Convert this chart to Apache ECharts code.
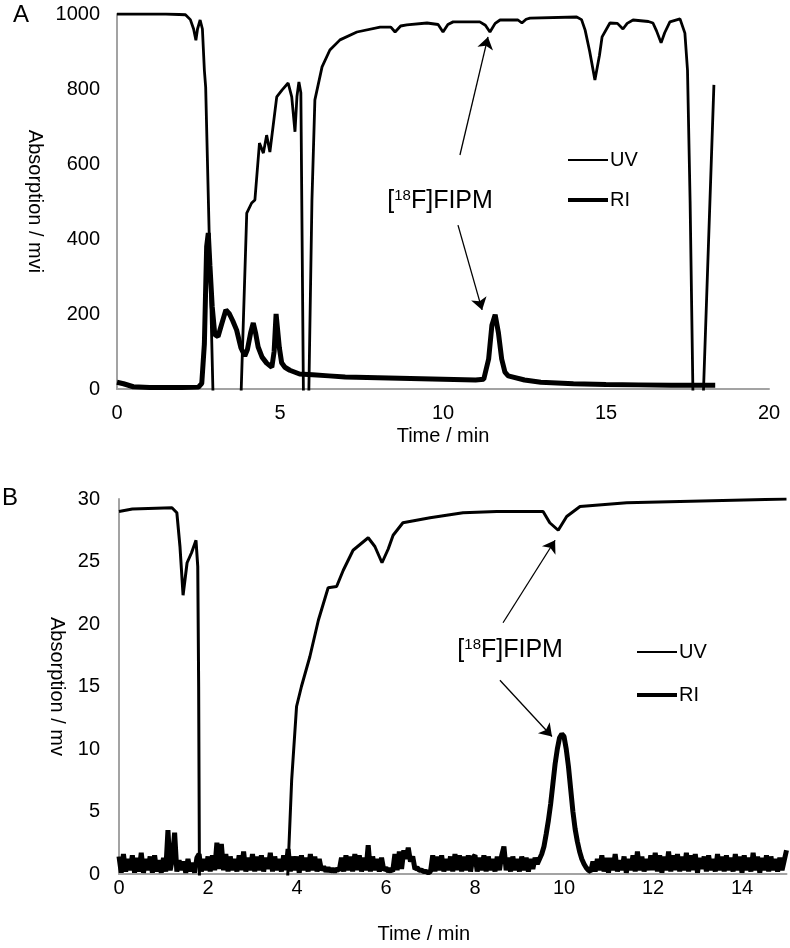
<!DOCTYPE html>
<html>
<head>
<meta charset="utf-8">
<title>Radio-HPLC chromatograms</title>
<script src="https://cdn.jsdelivr.net/npm/echarts@6/dist/echarts.min.js"></script>
<style>
  html, body { margin: 0; padding: 0; background: #fff; }
  #chart { width: 790px; height: 948px; }
</style>
</head>
<body>
<div id="chart"></div>
<script>
// ---- panel A (semi-preparative run) : [time / min, absorption / mvi]
// UV goes off-scale (below 0) where the trace vanishes into the axis
const uvA = [
  [0, 1000], [1.5, 1000], [2.1, 998], [2.25, 985], [2.35, 960], [2.42, 930], [2.47, 960],
  [2.55, 984], [2.62, 960], [2.68, 850], [2.72, 805], [2.77, 800], [2.95, -30], [3.8, -30],
  [3.98, 469], [4.13, 496], [4.23, 504], [4.37, 656], [4.49, 629], [4.59, 677], [4.69, 632],
  [4.8, 709], [4.9, 779], [5.06, 797], [5.25, 816], [5.36, 779], [5.46, 686], [5.52, 780],
  [5.58, 819], [5.64, 790], [5.72, -30], [5.88, -30], [5.98, 504], [6.07, 771], [6.29, 859],
  [6.53, 904], [6.84, 931], [7.36, 952], [8.07, 965], [8.4, 965], [8.53, 952], [8.7, 968],
  [8.89, 971], [9.51, 976], [9.85, 972], [10.0, 952], [10.15, 972], [10.31, 979], [11.13, 979],
  [11.3, 970], [11.44, 952], [11.6, 975], [11.75, 984], [12.3, 984], [12.42, 976], [12.55, 986],
  [12.67, 989], [14.1, 992], [14.25, 985], [14.36, 957], [14.5, 900], [14.66, 824], [14.8, 890],
  [14.88, 939], [15.12, 976], [15.35, 975], [15.52, 960], [15.65, 975], [15.83, 984], [16.3, 980],
  [16.44, 976], [16.55, 955], [16.69, 923], [16.8, 950], [16.96, 979], [17.27, 987], [17.42, 949],
  [17.5, 850], [17.58, 500], [17.67, -30], [17.98, -30], [18.31, 811]
]
const riA = [
  [0, 18], [0.2, 14], [0.5, 6], [1.0, 4], [1.5, 4], [2.0, 4], [2.5, 5], [2.6, 15], [2.68, 120],
  [2.75, 380], [2.8, 416], [2.85, 330], [2.92, 220], [3.0, 145], [3.1, 140], [3.2, 170],
  [3.34, 211], [3.45, 200], [3.55, 182], [3.67, 157], [3.8, 110], [3.92, 88], [4.0, 105],
  [4.1, 150], [4.18, 176], [4.25, 150], [4.33, 112], [4.45, 85], [4.59, 69], [4.75, 58],
  [4.82, 100], [4.88, 200], [4.92, 195], [4.98, 110], [5.05, 70], [5.15, 58], [5.3, 50],
  [5.6, 40], [6.0, 38], [6.5, 35], [7.0, 32], [8.0, 30], [9.0, 28], [10.0, 26], [11.0, 24],
  [11.25, 26], [11.4, 80], [11.5, 170], [11.6, 198], [11.7, 150], [11.8, 80], [11.9, 45],
  [12.0, 35], [12.5, 24], [13.0, 18], [14.0, 14], [15.0, 12], [16.0, 11], [17.0, 10],
  [18.0, 10], [18.35, 10]
]
const xTicksA = [0, 5, 10, 15, 20]
const yTicksA = [0, 200, 400, 600, 800, 1000]

// ---- panel B (analytical run) : [time / min, absorption / mv]
const uvB = [
  [0, 29.0], [0.3, 29.2], [1.19, 29.3], [1.3, 28.9], [1.37, 26.2], [1.44, 22.3], [1.53, 24.9],
  [1.63, 25.7], [1.73, 26.7], [1.77, 24.6], [1.79, 15], [1.81, -2], [3.77, -2], [3.88, 7.5],
  [3.99, 13.4], [4.1, 15.0], [4.29, 17.4], [4.48, 20.3], [4.7, 22.9], [4.89, 23.0], [5.04, 24.3],
  [5.26, 25.9], [5.6, 26.9], [5.75, 26.2], [5.91, 24.9], [6.05, 26.0], [6.16, 27.1], [6.38, 28.1],
  [6.99, 28.5], [7.73, 28.9], [8.49, 29.0], [9.53, 29.0], [9.68, 28.1], [9.87, 27.5], [10.06, 28.6],
  [10.36, 29.4], [11.41, 29.7], [15, 30.0]
]
// radio detector, sampled every 0.05 min from t = 0 (one row = 1 min)
const riBStep = 0.05
const riB = [
  1.4, 0.1, 1.6, 0.2, 1.2, 0.3, 1.5, 0.1, 1.3, 0.2, 1.7, 0.1, 1.2, 0.3, 1.4, 0.1, 1.5, 0.2, 1.1, 0.1,
  1.3, 0.2, 3.5, 0.3, 1.2, 3.3, 0.2, 1.1, 0.3, 1.0, 0.1, 1.2, 0.2, 0.9, 0.1, 1.3, 1.6, 0.2, 1.2, 0.3,
  1.4, 0.2, 1.5, 0.3, 2.5, 0.4, 2.4, 0.3, 1.6, 0.2, 1.4, 0.3, 1.2, 0.2, 1.5, 0.3, 1.8, 0.2, 1.3, 0.3,
  1.6, 0.2, 1.4, 0.3, 1.5, 0.2, 1.3, 0.4, 1.7, 0.2, 1.4, 0.3, 1.2, 0.2, 1.5, 0.3, 2.0, 0.2, 1.4, 0.3,
  1.4, 0.1, 1.5, 0.3, 1.3, 0.2, 1.6, 0.3, 1.4, 0.2, 1.2, 0.3, 0.6, 0.2, 0.5, 0.2, 0.4, 0.2, 0.4, 0.3,
  1.3, 0.2, 1.5, 0.3, 1.4, 0.2, 1.6, 0.3, 1.5, 0.2, 1.3, 0.3, 2.3, 0.2, 1.4, 0.3, 1.2, 0.2, 1.3, 0.3,
  0.5, 0.2, 0.4, 0.2, 1.6, 0.3, 1.8, 0.4, 1.9, 1.2, 2.1, 1.0, 1.4, 0.4, 0.5, 0.3, 0.3, 0.2, 0.2, 0.1,
  0.2, 1.5, 0.2, 1.4, 0.3, 1.5, 0.2, 1.2, 0.3, 1.4, 0.2, 1.6, 0.3, 1.5, 0.2, 1.4, 0.3, 1.5, 0.2, 1.3,
  1.5, 0.2, 1.3, 0.3, 1.5, 0.2, 1.4, 0.3, 1.2, 0.2, 1.4, 0.3, 1.5, 2.2, 0.3, 1.3, 0.2, 1.4, 0.3, 1.2,
  0.2, 1.4, 0.3, 1.3, 0.2, 1.2, 0.4, 1.3, 0.8, 1.2, 1.6, 2.2, 3.2, 4.3, 5.6, 7.2, 8.8, 10.0, 10.9, 11.2,
  11.0, 10.0, 8.6, 6.8, 5.0, 3.6, 2.6, 1.8, 1.2, 0.8, 0.5, 0.3, 0.2, 1.0, 0.2, 1.2, 0.3, 1.5, 0.2, 1.3,
  0.1, 1.3, 0.3, 1.6, 0.2, 1.1, 0.3, 1.4, 0.1, 1.2, 0.3, 1.5, 0.2, 1.8, 0.3, 1.4, 0.2, 1.2, 0.3, 1.5,
  0.3, 1.7, 0.2, 1.5, 0.1, 1.4, 0.3, 1.8, 0.2, 1.5, 0.3, 1.6, 0.2, 1.4, 0.3, 1.7, 0.2, 1.5, 0.3, 1.6,
  0.1, 1.3, 0.4, 1.4, 0.2, 1.5, 0.3, 1.2, 0.2, 1.6, 0.3, 1.4, 0.2, 1.5, 0.3, 1.3, 0.2, 1.6, 0.3, 1.4,
  0.1, 1.5, 0.3, 1.3, 0.2, 1.7, 0.3, 1.4, 0.1, 1.3, 0.3, 1.5, 0.2, 1.4, 0.3, 1.2, 0.2, 1.3, 0.3, 1.1,
  1.9
]
const xTicksB = [0, 2, 4, 6, 8, 10, 12, 14]
const xMaxB = 15
const yTicksB = [0, 5, 10, 15, 20, 25, 30]

// annotation: label spot and arrows (start -> tip), in data units
const noteA = [9.91, 501]
const arrowsA = [[[10.52, 624], [11.38, 939]], [[10.46, 437], [11.2, 211]]]
const noteB = [8.79, 17.9]
const arrowsB = [[[8.63, 20.1], [9.80, 26.7]], [[8.56, 15.5], [9.73, 11.0]]]

const font = 'Liberation Sans, Arial, Helvetica, sans-serif'
const axisGrey = '#a3a3a3'
const fs = 20

function xAxis(gridIndex, ticks, max, nameGap, margin, namePad) {
  return {
    type: 'value', gridIndex: gridIndex,
    min: ticks[0], max: max, interval: ticks[1] - ticks[0],
    name: 'Time / min', nameLocation: 'middle', nameGap: nameGap,
    nameTextStyle: { fontFamily: font, fontSize: fs, color: '#000', padding: namePad },
    axisLine: { lineStyle: { color: axisGrey, width: 2 } },
    axisTick: { show: false },
    splitLine: { show: false },
    axisLabel: { fontFamily: font, fontSize: fs, color: '#000', margin: margin, showMaxLabel: max === ticks[ticks.length - 1] }
  }
}
function yAxis(gridIndex, ticks, name, nameGap, margin) {
  return {
    type: 'value', gridIndex: gridIndex,
    min: ticks[0], max: ticks[ticks.length - 1], interval: ticks[1] - ticks[0],
    name: name, nameLocation: 'middle', nameRotate: -90, nameGap: nameGap,
    nameTextStyle: { fontFamily: font, fontSize: fs, color: '#000' },
    axisLine: { show: true, lineStyle: { color: axisGrey, width: 2 } },
    axisTick: { show: false },
    splitLine: { show: false },
    axisLabel: { fontFamily: font, fontSize: fs, color: '#000', margin: margin, formatter: v => String(v) }
  }
}
function legend(name, left, top, thick) {
  return {
    data: [name], left: left, top: top, padding: 0, icon: 'rect',
    itemWidth: 40, itemHeight: thick, itemGap: 0, selectedMode: false,
    itemStyle: { color: '#000' },
    textStyle: { fontFamily: font, fontSize: fs, color: '#000', lineHeight: 20, padding: [0, 0, 0, -3] }
  }
}
function arrows(list) {
  return {
    silent: true, symbol: ['none', 'arrow'], symbolSize: 12,
    label: { show: false },
    lineStyle: { color: '#000', width: 1.3, type: 'solid' },
    data: list.map(a => [{ coord: a[0] }, { coord: a[1] }])
  }
}
function note(pos) {
  return {
    silent: true,
    data: [{
      coord: pos, symbol: 'circle', symbolSize: 0,
      label: {
        show: true, position: 'inside', formatter: '[{sup|18}F]FIPM',
        fontFamily: font, fontSize: 25, color: '#000', lineHeight: 26,
        rich: { sup: { fontFamily: font, fontSize: 15, color: '#000', verticalAlign: 'top' } }
      }
    }]
  }
}
function trace(name, idx, data, width, extra) {
  return Object.assign({
    name: name, type: 'line', xAxisIndex: idx, yAxisIndex: idx, data: data,
    showSymbol: false, symbol: 'none', silent: true, clip: true,
    lineStyle: { color: '#000', width: width }, itemStyle: { color: '#000' }
  }, extra || {})
}

const chart = echarts.init(document.getElementById('chart'))
chart.setOption({
  animation: false,
  backgroundColor: '#fff',
  title: [
    { text: 'A', left: 13, top: 3, padding: 0, textStyle: { fontFamily: font, fontSize: 24, fontWeight: 'normal', color: '#000' } },
    { text: 'B', left: 2, top: 486, padding: 0, textStyle: { fontFamily: font, fontSize: 24, fontWeight: 'normal', color: '#000' } }
  ],
  grid: [
    { left: 117, right: 21, top: 14, bottom: 559, outerBoundsMode: 'none' },
    { left: 119, right: 3.5, top: 499, bottom: 74, outerBoundsMode: 'none' }
  ],
  legend: [
    legend('UV', 568, 150, 2),
    legend('RI', 568, 190, 4),
    legend('UV', 637, 642, 2),
    legend('RI', 637, 685, 4)
  ],
  xAxis: [
    xAxis(0, xTicksA, xTicksA[xTicksA.length - 1], 37, 14, 0),
    xAxis(1, xTicksB, xMaxB, 50, 4, [0, 58, 0, 0])
  ],
  yAxis: [
    yAxis(0, yTicksA, 'Absorption / mvi', 64, 17),
    yAxis(1, yTicksB, 'Absorption / mv', 42, 19)
  ],
  series: [
    trace('UV', 0, uvA, 2.8, { markLine: arrows(arrowsA), markPoint: note(noteA) }),
    trace('RI', 0, riA, 5),
    trace('UV', 1, uvB, 3, { markLine: arrows(arrowsB), markPoint: note(noteB) }),
    trace('RI', 1, riB.map((v, i) => [+(i * riBStep).toFixed(2), v]), 5)
  ]
})
</script>
</body>
</html>
